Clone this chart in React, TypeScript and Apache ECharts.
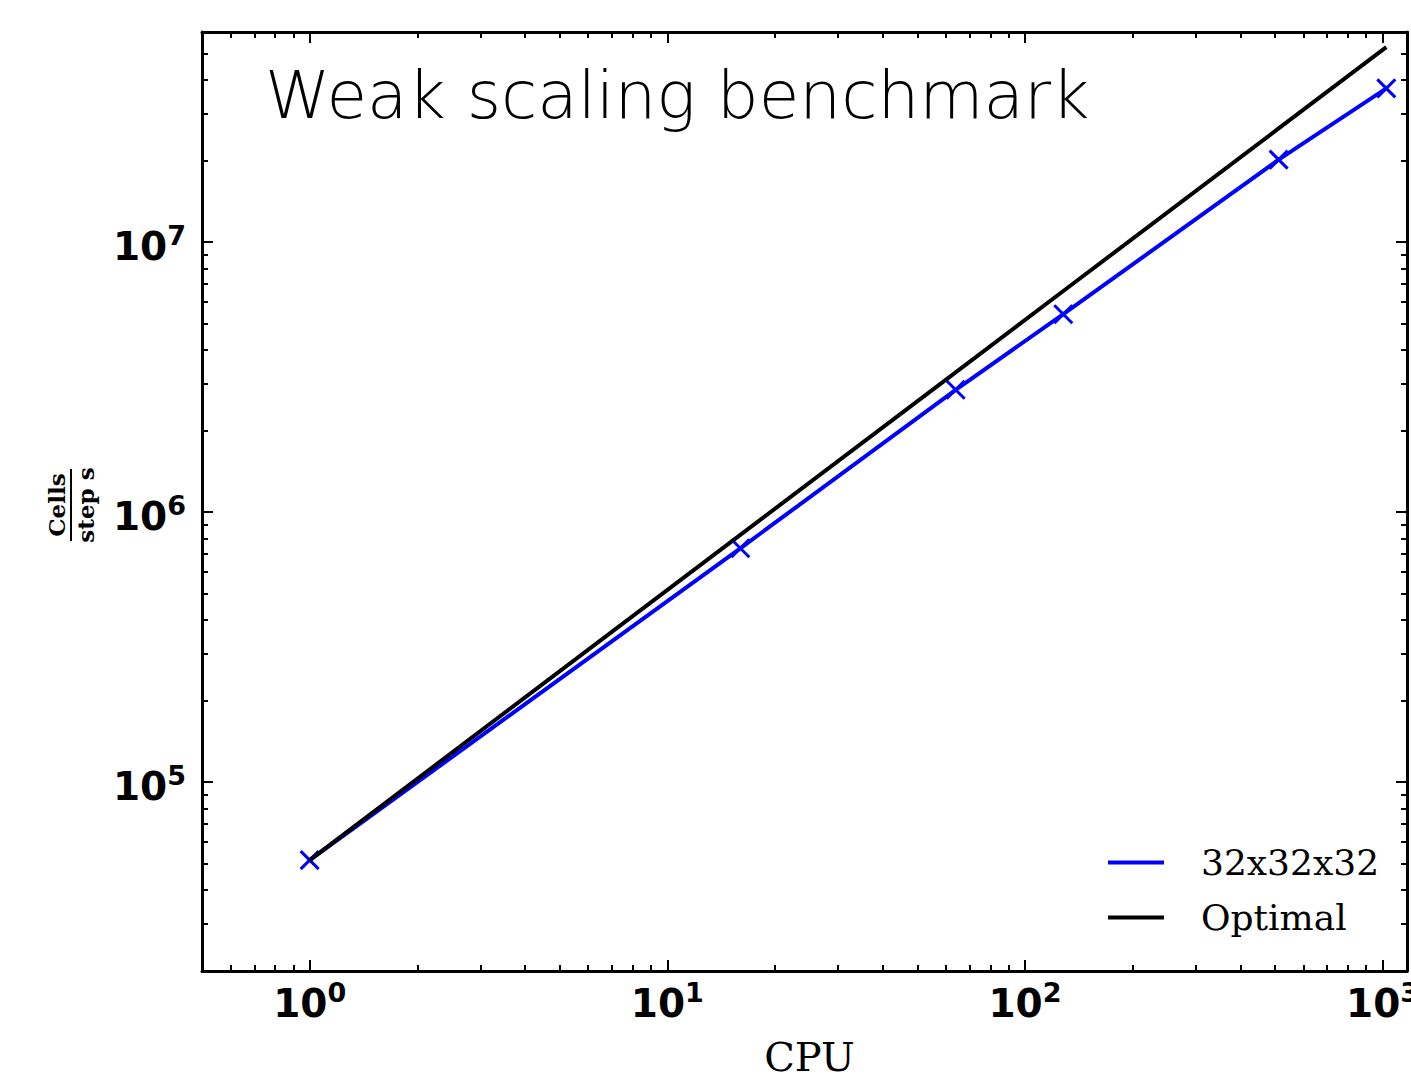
import React, { useEffect, useRef } from "react";
import * as echarts from "echarts";

const cpuCounts = [1, 16, 64, 128, 512, 1024];
const cellsPerSecond = [51500, 735000, 2840000, 5410000, 20200000, 37100000];
const optimalBase = 51500;
const optimalValues = cpuCounts.map((c) => c * optimalBase);

const xMajorTicks = [1, 10, 100, 1000];
const xMinorTicks = [
  0.6, 0.7, 0.8, 0.9,
  2, 3, 4, 5, 6, 7, 8, 9,
  20, 30, 40, 50, 60, 70, 80, 90,
  200, 300, 400, 500, 600, 700, 800, 900,
];
const yMajorTicks = [1e5, 1e6, 1e7];
const yMinorTicks = [
  3e4, 4e4, 5e4, 6e4, 7e4, 8e4, 9e4,
  2e5, 3e5, 4e5, 5e5, 6e5, 7e5, 8e5, 9e5,
  2e6, 3e6, 4e6, 5e6, 6e6, 7e6, 8e6, 9e6,
  2e7, 3e7, 4e7, 5e7,
];

const X_MIN = 0.5;
const X_MAX = 1170;
const Y_MIN = 2e4;
const Y_MAX = 6e7;

const seriesName = "32x32x32";
const optimalName = "Optimal";
const titleText = "Weak scaling benchmark";

const labelFont = "'DejaVu Sans', sans-serif";
const serifFont = "'DejaVu Serif', serif";

const richLabel = {
  b: { fontSize: 39, lineHeight: 40, fontFamily: labelFont, fontWeight: "bold", color: "#000", padding: [9, 0, 0, 0] },
  s: { fontSize: 27, lineHeight: 28, fontFamily: labelFont, fontWeight: "bold", color: "#000", verticalAlign: "top" },
};

const powFormatter = (v: number) => `{b|10}{s|${Math.round(Math.log10(v))}}`;

function makeX(position: "top" | "bottom", ticks: number[], length: number, showLine: boolean, showLabel: boolean) {
  return {
    type: "log",
    logBase: 10,
    min: X_MIN,
    max: X_MAX,
    position,
    gridIndex: 0,
    axisLine: { show: showLine, onZero: false, lineStyle: { color: "#000", width: 3 } },
    axisTick: { show: true, inside: true, length, customValues: ticks, lineStyle: { color: "#000", width: 2 } },
    axisLabel: showLabel
      ? { show: true, customValues: ticks, formatter: powFormatter, rich: richLabel, margin: 8, hideOverlap: false }
      : { show: false },
    splitLine: { show: false },
    minorTick: { show: false },
    name: showLabel ? "CPU" : "",
    nameLocation: "middle",
    nameGap: 66,
    nameTextStyle: { fontFamily: serifFont, fontSize: 40, color: "#000", padding: [0, 0, 0, 10] },
  };
}

function makeY(position: "left" | "right", ticks: number[], length: number, showLine: boolean, showLabel: boolean) {
  return {
    type: "log",
    logBase: 10,
    min: Y_MIN,
    max: Y_MAX,
    position,
    gridIndex: 0,
    axisLine: { show: showLine, onZero: false, lineStyle: { color: "#000", width: 3 } },
    axisTick: { show: true, inside: true, length, customValues: ticks, lineStyle: { color: "#000", width: 2 } },
    axisLabel: showLabel
      ? { show: true, customValues: ticks, formatter: powFormatter, rich: richLabel, margin: 16 }
      : { show: false },
    splitLine: { show: false },
    minorTick: { show: false },
  };
}

export default function App() {
  const ref = useRef<HTMLDivElement>(null);

  useEffect(() => {
    if (!ref.current) return;
    document.documentElement.style.overflow = "hidden";
    document.body.style.overflow = "hidden";
    const chart = echarts.init(ref.current, null, { renderer: "svg" });
    const blueData = cpuCounts.map((c, i) => [c, cellsPerSecond[i]]);
    const optData = cpuCounts.map((c, i) => [c, optimalValues[i]]);

    chart.setOption({
      animation: false,
      backgroundColor: "#fff",
      grid: {
        left: 202,
        top: 32,
        right: 4,
        bottom: 108,
        containLabel: false,
        outerBoundsMode: "none",
      },
      xAxis: [
        makeX("bottom", xMajorTicks, 11, true, true),
        makeX("bottom", xMinorTicks, 6, false, false),
        makeX("top", xMajorTicks, 11, true, false),
        makeX("top", xMinorTicks, 6, false, false),
      ],
      yAxis: [
        makeY("left", yMajorTicks, 11, true, true),
        makeY("left", yMinorTicks, 6, false, false),
        makeY("right", yMajorTicks, 11, true, false),
        makeY("right", yMinorTicks, 6, false, false),
      ],
      legend: {
        orient: "vertical",
        left: 1103,
        top: 837,
        icon: "rect",
        itemWidth: 56,
        itemHeight: 4,
        itemGap: 14,
        itemStyle: { borderWidth: 0 },
        data: [seriesName, optimalName],
        textStyle: {
          fontFamily: serifFont,
          fontSize: 36,
          lineHeight: 41,
          color: "#000",
          padding: [0, 0, 0, 32],
        },
      },
      series: [
        {
          name: seriesName,
          type: "line",
          xAxisIndex: 0,
          yAxisIndex: 0,
          data: blueData,
          lineStyle: { color: "#0000ff", width: 4 },
          itemStyle: { color: "#0000ff", borderColor: "#0000ff", borderWidth: 3 },
          symbol: "path://M0,0L10,10M10,0L0,10",
          symbolSize: 18,
          showSymbol: true,
          z: 2,
        },
        {
          name: optimalName,
          type: "line",
          xAxisIndex: 0,
          yAxisIndex: 0,
          data: optData,
          lineStyle: { color: "#000", width: 4 },
          itemStyle: { color: "#000" },
          symbol: "none",
          z: 3,
        },
      ],
      graphic: [
        {
          type: "text",
          left: 265,
          top: 62,
          style: {
            text: titleText,
            fontFamily: "'DejaVu Sans', sans-serif",
            fontWeight: 200,
            fontSize: 66,
            fill: "#000",
          },
        },
        {
          type: "group",
          x: 71,
          y: 505,
          rotation: Math.PI / 2,
          children: [
            {
              type: "text",
              x: 0,
              y: -3,
              style: {
                text: "Cells",
                fontFamily: serifFont,
                fontWeight: "bold",
                fontSize: 23,
                fill: "#000",
                align: "center",
                verticalAlign: "bottom",
              },
            },
            {
              type: "line",
              shape: { x1: -36, y1: 0, x2: 36, y2: 0 },
              style: { stroke: "#000", lineWidth: 2 },
            },
            {
              type: "text",
              x: 0,
              y: 3,
              style: {
                text: "step s",
                fontFamily: serifFont,
                fontWeight: "bold",
                fontSize: 23,
                fill: "#000",
                align: "center",
                verticalAlign: "top",
              },
            },
          ],
        },
      ],
    });

    return () => chart.dispose();
  }, []);

  return (
    <div
      ref={ref}
      style={{ position: "absolute", left: 0, top: 0, width: 1411, height: 1079 }}
    />
  );
}
